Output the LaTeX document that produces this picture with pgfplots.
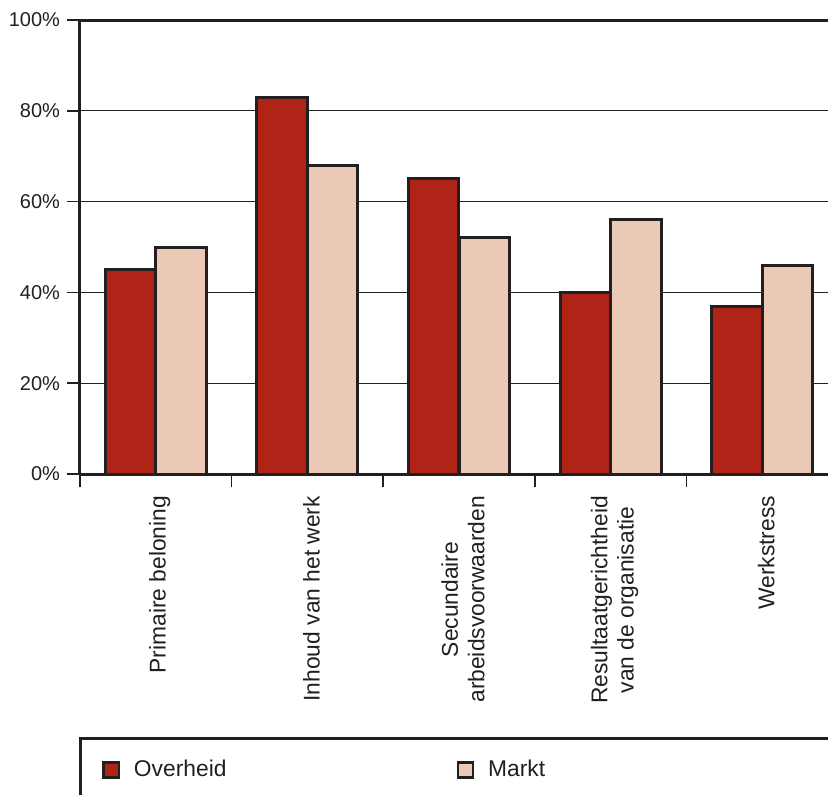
\documentclass[border=0pt]{standalone}
\usepackage{fontspec}
\setmainfont{Liberation Sans}
\usepackage{pgfplots}
\pgfplotsset{compat=1.18}
\definecolor{overheid}{HTML}{B02418}
\definecolor{markt}{HTML}{ECC8B6}
\definecolor{ink}{HTML}{231F20}

\pgfplotsset{
  legsq/.style={legend image code/.code={%
    \draw[##1, line width=1.2pt] (0pt,-3.8pt) rectangle (7.6pt,3.8pt);}},
}

\begin{document}
\begin{tikzpicture}
\begin{axis}[
  scale only axis, width=374pt, height=227pt,
  xmin=-0.5, xmax=4.434, ymin=0, ymax=100,
  clip=false,
  axis x line*=bottom, axis y line*=left,
  axis line style={ink, line width=1.5pt},
  tick align=outside,
  major tick length=6.5pt,
  tick style={ink, line width=0.8pt},
  ytick={0,20,...,100},
  yticklabels={0\%,20\%,40\%,60\%,80\%,100\%},
  yticklabel style={font=\fontsize{10}{12}\selectfont, text=ink},
  ymajorgrids,
  major grid style={ink, line width=0.5pt},
  xtick={-0.5,0.5,1.5,2.5,3.5},
  xticklabels={},
  extra x ticks={0,1,2,3,4},
  extra x tick labels={Primaire beloning,Inhoud van het werk,{Secundaire\\arbeidsvoorwaarden},{Resultaatgerichtheid\\van de organisatie},Werkstress},
  extra x tick style={major tick length=0pt, tick style={draw=none},
    xticklabel style={rotate=90, anchor=east, align=center,
      font=\fontsize{11.4}{13.2}\selectfont, text=ink, xshift=-7.5pt, yshift=-2pt}},
  ybar, bar width=0.333,
  legend columns=2,
  legend style={draw=none, fill=none, at={(axis description cs:0,-0.652)},
    anchor=west, xshift=8pt, font=\fontsize{11.4}{13.2}\selectfont, text=ink,
    /tikz/every odd column/.append style={column sep=5pt},
    /tikz/every even column/.append style={column sep=113pt}},
]
\addplot[legsq, fill=overheid, draw=ink, line width=1.5pt, bar shift=-0.1667]
  coordinates {(0,45) (1,83) (2,65) (3,40) (4,37)};
\addlegendentry{Overheid}
\addplot[legsq, fill=markt, draw=ink, line width=1.5pt, bar shift=0.1667]
  coordinates {(0,50) (1,68) (2,52) (3,56) (4,46)};
\addlegendentry{Markt}
% top frame line at 100%
\draw[ink, line width=1.5pt] (rel axis cs:0,1) -- (rel axis cs:1,1);
\end{axis}
% legend frame
\draw[ink, line width=1.5pt] (0pt,-200pt) -- (0pt,-132pt) -- (430pt,-132pt);
\pgfresetboundingbox
\path (-40pt,-160pt) rectangle (374pt,237pt);
\end{tikzpicture}
\end{document}
